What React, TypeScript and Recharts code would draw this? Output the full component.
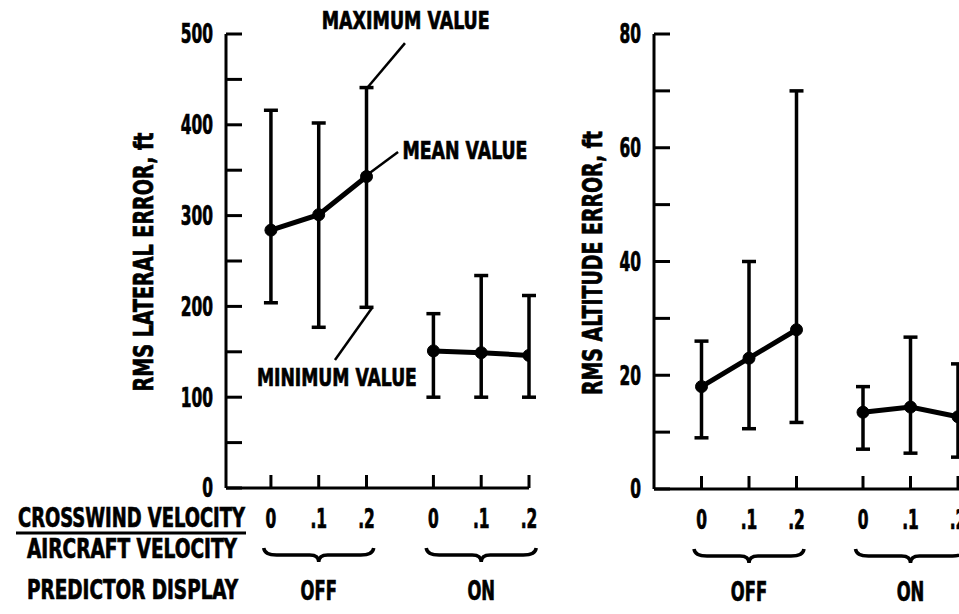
import React from 'react';
import { ComposedChart, Line, XAxis, YAxis, ErrorBar, ReferenceLine, ReferenceDot } from 'recharts';

// ---------- data ----------
const ratios = [0, 0.1, 0.2];
const ratioLabels = ['0', '.1', '.2'];
const displayGroups = ['OFF', 'ON'];

const lateralMeanOff = [284, 301, 343];
const lateralMaxOff = [416, 402, 441];
const lateralMinOff = [204, 177, 199];
const lateralMeanOn = [151, 149, 146];
const lateralMaxOn = [192, 234, 212];
const lateralMinOn = [100, 100, 100];

const altitudeMeanOff = [18, 23, 28];
const altitudeMaxOff = [26, 40, 70];
const altitudeMinOff = [9, 10.6, 11.7];
const altitudeMeanOn = [13.5, 14.4, 12.7];
const altitudeMaxOn = [18, 26.7, 22];
const altitudeMinOn = [7, 6.3, 5.6];

const lateralTicks = [0, 50, 100, 150, 200, 250, 300, 350, 400, 450, 500];
const altitudeTicks = [0, 10, 20, 30, 40, 50, 60, 70, 80];

const annotationTexts = ['MAXIMUM VALUE', 'MEAN VALUE', 'MINIMUM VALUE'];

// ---------- layout ----------
const GROUP_OFFSET = 0.34;
const FONT = "'DejaVu Sans Condensed', 'DejaVu Sans', 'Liberation Sans', sans-serif";
const INK = '#000';

const buildRows = (mean: number[], min: number[], max: number[], g: number) =>
  ratios.map((r, i) => ({
    x: +(r + g * GROUP_OFFSET).toFixed(3),
    mean: mean[i],
    err: [mean[i] - min[i], max[i] - mean[i]],
  }));

const xTicks = [0, 1].flatMap((g) => ratios.map((r) => +(r + g * GROUP_OFFSET).toFixed(3)));

const lateralOff = buildRows(lateralMeanOff, lateralMinOff, lateralMaxOff, 0);
const lateralOn = buildRows(lateralMeanOn, lateralMinOn, lateralMaxOn, 1);
const altitudeOff = buildRows(altitudeMeanOff, altitudeMinOff, altitudeMaxOff, 0);
const altitudeOn = buildRows(altitudeMeanOn, altitudeMinOn, altitudeMaxOn, 1);

// condensed bold text: scaled horizontally, optional exact width
const CT = ({
  x,
  y,
  anchor = 'middle',
  size = 26,
  sx = 0.66,
  width,
  rotate = false,
  children,
}: {
  x: number;
  y: number;
  anchor?: 'start' | 'middle' | 'end';
  size?: number;
  sx?: number;
  width?: number;
  rotate?: boolean;
  children: React.ReactNode;
}) => (
  <text
    transform={`translate(${x},${y})${rotate ? ' rotate(-90)' : ''} scale(${sx},1)`}
    x={0}
    y={0}
    dy={size * 0.365}
    textAnchor={anchor}
    fontSize={size}
    fontWeight="bold"
    fontFamily={FONT}
    fill={INK}
    stroke={INK}
    strokeWidth={0.7}
    {...(width ? { textLength: width / sx, lengthAdjust: 'spacingAndGlyphs' } : {})}
  >
    {children}
  </text>
);

const makeYTick = (labelEvery: number) => (props: any) => {
  const { x, y, payload } = props;
  const v = payload.value;
  return (
    <g>
      <line x1={x} y1={y} x2={x + 16} y2={y} stroke={INK} strokeWidth={3} />
      {v % labelEvery === 0 && (
        <CT x={x - 13} y={y} anchor="end">
          {v}
        </CT>
      )}
    </g>
  );
};

const Brace = ({ cx, y }: { cx: number; y: number }) => {
  const h = 55;
  const d = `M ${cx - h} ${y - 7} Q ${cx - h + 1} ${y} ${cx - h + 13} ${y} L ${cx - 9} ${y} Q ${cx} ${y} ${cx} ${y + 7} Q ${cx} ${y} ${cx + 9} ${y} L ${cx + h - 13} ${y} Q ${cx + h - 1} ${y} ${cx + h} ${y - 7}`;
  return <path d={d} fill="none" stroke={INK} strokeWidth={3.5} />;
};

const XTick = (props: any) => {
  const { x, y, payload } = props;
  const v = payload.value;
  let idx = 0;
  let best = Infinity;
  xTicks.forEach((t, i) => {
    const dd = Math.abs(t - v);
    if (dd < best) {
      best = dd;
      idx = i;
    }
  });
  const pos = idx % 3;
  const grp = Math.floor(idx / 3);
  return (
    <g>
      <line x1={x} y1={y} x2={x} y2={y - 13} stroke={INK} strokeWidth={3} />
      <CT x={x} y={y + 31}>{ratioLabels[pos]}</CT>
      {pos === 1 && (
        <g>
          <Brace cx={x} y={y + 67} />
          <CT x={x} y={y + 102} sx={0.7}>
            {displayGroups[grp]}
          </CT>
        </g>
      )}
    </g>
  );
};

const textShape = (label: string, len: number) => (p: any) => (
  <CT x={p.cx} y={p.cy} size={24} sx={0.72} width={len}>
    {label}
  </CT>
);

const seriesLine = (data: any[], key: string) => (
  <Line
    key={key}
    data={data}
    dataKey="mean"
    stroke={INK}
    strokeWidth={5}
    dot={{ r: 6, fill: INK, stroke: INK, strokeWidth: 1 }}
    isAnimationActive={false}
  >
    <ErrorBar dataKey="err" direction="y" width={7} stroke={INK} strokeWidth={3.5} isAnimationActive={false} />
  </Line>
);

const LeftChart = () => (
  <ComposedChart width={545} height={614} margin={{ top: 34, right: 16, bottom: 16, left: 166 }}>
    <XAxis
      dataKey="x"
      type="number"
      domain={[-0.094, 0.54]}
      ticks={xTicks}
      interval={0}
      height={110}
      axisLine={{ stroke: INK, strokeWidth: 3 }}
      tickLine={false}
      tickSize={0}
      tickMargin={0}
      tick={XTick}
      allowDataOverflow
    />
    <YAxis
      type="number"
      domain={[0, 500]}
      ticks={lateralTicks}
      interval={0}
      width={60}
      axisLine={{ stroke: INK, strokeWidth: 3 }}
      tickLine={false}
      tickSize={0}
      tickMargin={0}
      tick={makeYTick(100)}
      allowDataOverflow
    />
    {seriesLine(lateralOff, 'off')}
    {seriesLine(lateralOn, 'on')}
    <ReferenceLine segment={[{ x: 0.203, y: 441.6 }, { x: 0.2805, y: 490 }]} stroke={INK} strokeWidth={2.5} ifOverflow="visible" />
    <ReferenceLine segment={[{ x: 0.201, y: 344.7 }, { x: 0.266, y: 370 }]} stroke={INK} strokeWidth={2.5} ifOverflow="visible" />
    <ReferenceLine segment={[{ x: 0.211, y: 198 }, { x: 0.134, y: 141 }]} stroke={INK} strokeWidth={2.5} ifOverflow="visible" />
    <ReferenceDot x={0.282} y={515} r={0} ifOverflow="visible" shape={textShape(annotationTexts[0], 168)} />
    <ReferenceDot x={0.406} y={372} r={0} ifOverflow="visible" shape={textShape(annotationTexts[1], 125)} />
    <ReferenceDot x={0.138} y={122} r={0} ifOverflow="visible" shape={textShape(annotationTexts[2], 160)} />
  </ComposedChart>
);

const RightChart = () => (
  <ComposedChart width={430} height={614} margin={{ top: 34, right: 13, bottom: 15, left: 34 }}>
    <XAxis
      dataKey="x"
      type="number"
      domain={[-0.1, 0.58]}
      ticks={xTicks}
      interval={0}
      height={110}
      axisLine={{ stroke: INK, strokeWidth: 3 }}
      tickLine={false}
      tickSize={0}
      tickMargin={0}
      tick={XTick}
      allowDataOverflow
    />
    <YAxis
      type="number"
      domain={[0, 80]}
      ticks={altitudeTicks}
      interval={0}
      width={60}
      axisLine={{ stroke: INK, strokeWidth: 3 }}
      tickLine={false}
      tickSize={0}
      tickMargin={0}
      tick={makeYTick(20)}
      allowDataOverflow
    />
    {seriesLine(altitudeOff, 'off')}
    {seriesLine(altitudeOn, 'on')}
  </ComposedChart>
);

export default function App() {
  return (
    <div style={{ position: 'absolute', left: 0, top: 0, width: 959, height: 614, overflow: 'hidden', background: '#fff' }}>
      <div style={{ position: 'absolute', left: 0, top: 0 }}>
        <LeftChart />
      </div>
      <div style={{ position: 'absolute', left: 560, top: 0 }}>
        <RightChart />
      </div>
      <svg width={959} height={614} style={{ position: 'absolute', left: 0, top: 0, pointerEvents: 'none' }}>
        <CT x={18} y={518} anchor="start" sx={0.75} width={227}>CROSSWIND VELOCITY</CT>
        <line x1={16} y1={533} x2={246} y2={533} stroke={INK} strokeWidth={3} />
        <CT x={27} y={549} anchor="start" sx={0.75} width={210}>AIRCRAFT VELOCITY</CT>
        <CT x={27} y={590} anchor="start" sx={0.75} width={211}>PREDICTOR DISPLAY</CT>
        <CT x={143} y={262} rotate sx={0.75} size={27} width={259}>RMS LATERAL ERROR, ft</CT>
        <CT x={592} y={263} rotate sx={0.75} size={27} width={264}>RMS ALTITUDE ERROR, ft</CT>
      </svg>
    </div>
  );
}
